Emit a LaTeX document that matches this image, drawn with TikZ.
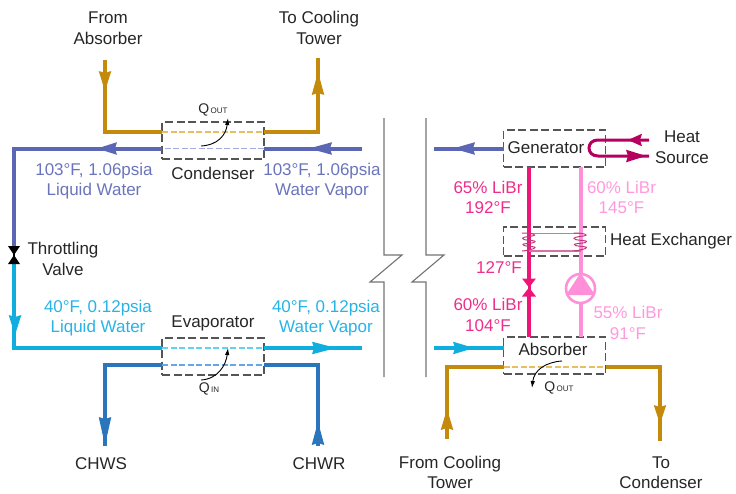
\documentclass[tikz,border=0pt]{standalone}
\usepackage{fontspec}
\setmainfont{Liberation Sans}
\usetikzlibrary{arrows.meta,calc}
\definecolor{cpurple}{HTML}{5B67B4}
\definecolor{tpurple}{HTML}{6A74BC}
\definecolor{dpurple}{HTML}{A4ABE2}
\definecolor{ccyan}{HTML}{0FAEDF}
\definecolor{tcyan}{HTML}{27B3E6}
\definecolor{dcyan}{HTML}{62D2F2}
\definecolor{cgold}{HTML}{C48A0C}
\definecolor{dgold}{HTML}{E8BE62}
\definecolor{cblue}{HTML}{2A75BB}
\definecolor{dblue}{HTML}{62A8E8}
\definecolor{cpink}{HTML}{EE1478}
\definecolor{tpink}{HTML}{EE2E8A}
\definecolor{clight}{HTML}{FF8FD8}
\definecolor{tlight}{HTML}{FF99DD}
\definecolor{ccrim}{HTML}{B5005F}
\definecolor{ccoil}{HTML}{C0387E}
\definecolor{cbox}{HTML}{555555}
\tikzset{
  x=1pt,y=-1pt,
  every node/.style={inner sep=0pt,outer sep=0pt},
  lbl/.style={font=\fontsize{17}{20.5}\selectfont,align=center,text=black!85},
  qlbl/.style={font=\fontsize{14}{16}\selectfont,text=black!85},
  box/.style={draw=cbox,line width=1.1pt,dash pattern=on 8pt off 3.5pt,minimum width=102pt},
  pipe/.style={line width=4pt,line join=miter},
  inner/.style={line width=1.3pt,dash pattern=on 6pt off 2.5pt},
  brk/.style={draw=black!55,line width=1.1pt},
  qarrow/.style={black,line width=.9pt,-{Latex[length=7pt,width=4.5pt]}},
  coil/.style={draw=ccoil,line width=1pt},
}
\newcommand{\QL}[1]{Q{\fontsize{8}{8}\selectfont\,#1}}
% filled arrowhead: colour, base point, tip point
\newcommand{\fhead}[3]{\fill[#1] ($#2!6.3pt!90:#3$) -- #3 -- ($#2!6.3pt!-90:#3$) -- ($#2!2pt!0:#3$) -- cycle;}
\begin{document}
\begin{tikzpicture}
\useasboundingbox (0,0) rectangle (736,493);
% boxes
\node[box,minimum height=37pt] (cond) at (213,140.5) {};
\node[box,minimum height=37pt] (evap) at (213,356.5) {};
\node[box,minimum height=37pt] (gen) at (554.5,148.5) {};
\node[box,minimum height=29pt] (hx) at (554.5,241.5) {};
\node[box,minimum height=37pt] (abs) at (554.5,355.5) {};
% free ends
\coordinate (fromabs) at (105,60);
\coordinate (totower) at (318,58);
\coordinate (vapin) at (362,148.5);
\coordinate (corner) at (14,148.5);
\coordinate (vapout) at (362,348);
\coordinate (chws) at (105,446);
\coordinate (chwr) at (318,446);
\coordinate (genout) at (434,148.5);
\coordinate (absin) at (434,348);
\coordinate (fromct) at (447,439);
\coordinate (tocond) at (660,441);
\coordinate (valveT) at (14,246);
\coordinate (valveB) at (14,264);
\coordinate (corner2) at (14,348);
\coordinate (pvT) at (529,279);
\coordinate (pvB) at (529,296);
\coordinate (pumpc) at (580.5,288.5);
% pipes: condenser
\draw[pipe,cgold] (fromabs) -- (105,132) -- (162,132);
\draw[pipe,cgold] (264,132) -- (318,132) -- (totower);
\draw[inner,dgold] (162,132) -- (264,132);
\draw[pipe,cpurple] (vapin) -- (264,148.5);
\draw[inner,dpurple] (264,148.5) -- (162,148.5);
\draw[pipe,cpurple] (162,148.5) -- (corner) -- (valveT);
% evaporator
\draw[pipe,ccyan] (valveB) -- (corner2) -- (162,348);
\draw[inner,dcyan] (162,348) -- (264,348);
\draw[pipe,ccyan] (264,348) -- (vapout);
\draw[pipe,cblue] (chws) -- (105,365) -- (162,365);
\draw[inner,dblue] (162,365) -- (264,365);
\draw[pipe,cblue] (264,365) -- (318,365) -- (chwr);
% generator / absorber
\draw[pipe,cpurple] (gen.west) -- (genout);
\draw[pipe,ccyan] (absin) -- (abs.west |- absin);
\draw[pipe,cgold] (fromct) -- (447,367) -- (503.5,367);
\draw[inner,dgold] (503.5,367) -- (605.5,367);
\draw[pipe,cgold] (605.5,367) -- (660,367) -- (tocond);
\draw[pipe,cpink] (529,167) -- (pvT);
\draw[pipe,cpink] (pvB) -- (529,337);
\draw[pipe,clight] (580.5,167) -- (580.5,273);
\draw[pipe,clight] (580.5,303) -- (580.5,337);
% arrowheads
\fhead{cgold}{(105,71)}{(105,91)}
\fhead{cgold}{(318,95)}{(318,72)}
\fhead{cpurple}{(117,148.5)}{(97,148.5)}
\fhead{cpurple}{(332,148.5)}{(309,148.5)}
\fhead{ccyan}{(15,315)}{(15,335)}
\fhead{ccyan}{(312,348)}{(336,348)}
\fhead{cblue}{(105,417)}{(105,445)}
\fhead{cblue}{(318,445)}{(318,422)}
\fhead{cpurple}{(475,148.5)}{(453,148.5)}
\fhead{ccyan}{(453,348)}{(474,348)}
\fhead{cgold}{(447,430)}{(447,409)}
\fhead{cgold}{(660,405)}{(660,424)}
% valves
\fill[black] (8,246) -- (20,246) -- (14,255) -- (20,264) -- (8,264) -- (14,255) -- cycle;
\draw[black,line width=2pt] (14,252) -- (14,258);
\fill[cpink] (522,278.5) -- (536,278.5) -- (529,287.5) -- (536,296.5) -- (522,296.5) -- (529,287.5) -- cycle;
\draw[cpink,line width=3pt] (529,283) -- (529,292);
% pump
\draw[clight,line width=2.6pt,fill=white] (pumpc) circle[radius=14.5];
\fill[clight] (580.5,273) -- (595,295) -- (566,295) -- cycle;
% heat source loop
\draw[ccrim,line width=3pt] (649,140) -- (598,140) .. controls (586,140) and (586,156) .. (598,156) -- (649,156);
\fhead{ccrim}{(642,140)}{(628,140)}
\fhead{ccrim}{(626,156)}{(646,156)}
% heat exchanger
\draw[coil,draw=ccoil!70] (529,233) -- (580.5,233);
\draw[coil,draw=ccoil!70,line width=1.4pt] (529,251) -- (580.5,251);
\foreach \cx in {529,580.5}{
  \draw[coil] (\cx-7,233) .. controls (\cx+4,233) and (\cx+9,235) .. (\cx+3,236)
     .. controls (\cx-1,236.5) and (\cx-10,237.5) .. (\cx-5,239.5)
     .. controls (\cx-2,240.5) and (\cx+10,240.5) .. (\cx+5,242.5)
     .. controls (\cx+2,243.5) and (\cx-10,243.5) .. (\cx-5,245.5)
     .. controls (\cx-2,246.5) and (\cx+10,246.5) .. (\cx+5,248.5)
     .. controls (\cx+2,249.5) and (\cx-4,251) .. (\cx-7,251);
}
% break lines
\draw[brk] (384,118) -- (384,255) -- (402,255) -- (370,282) -- (384,282) -- (384,377);
\draw[brk] (426,118) -- (426,255) -- (444,255) -- (412,282) -- (426,282) -- (426,377);
% heat arrows
\coordinate (q1a) at (201,146);
\coordinate (q1b) at (228,118);
\draw[qarrow] (q1a) .. controls (218,145) and (226,135) .. (q1b);
\coordinate (q2a) at (201,380);
\coordinate (q2b) at (228,348);
\draw[qarrow] (q2a) .. controls (218,379) and (226,365) .. (q2b);
\coordinate (q3a) at (562,361);
\coordinate (q3b) at (532,388);
\draw[qarrow] (q3a) .. controls (546,362) and (534,370) .. (q3b);
\node[qlbl] (qout1) at (213,110) {\QL{OUT}};
\node[qlbl] (qin) at (209,389) {\QL{IN}};
\node[qlbl] (qout2) at (559,388) {\QL{OUT}};
% labels
\node[lbl] (t1) at (108,28) {From\\Absorber};
\node[lbl] (t2) at (319,28) {To Cooling\\Tower};
\node[lbl] (t3) at (213,173) {Condenser};
\node[lbl] (t4) at (213,323) {Evaporator};
\node[lbl,text=tpurple] (t5) at (94,181) {103°F, 1.06psia\\Liquid Water};
\node[lbl,text=tpurple] (t6) at (322,181) {103°F, 1.06psia\\Water Vapor};
\node[lbl] (t7) at (63,259) {Throttling\\Valve};
\node[lbl,text=tcyan] (t8) at (98,318) {40°F, 0.12psia\\Liquid Water};
\node[lbl,text=tcyan] (t9) at (326,318) {40°F, 0.12psia\\Water Vapor};
\node[lbl] (t10) at (101,464) {CHWS};
\node[lbl] (t11) at (319,464) {CHWR};
\node[lbl] (t12) at (450,472.5) {From Cooling\\Tower};
\node[lbl] (t13) at (661,472.5) {To\\Condenser};
\node[lbl] (t14) at (546,148) {Generator};
\node[lbl] (t15) at (553,349) {Absorber};
\node[lbl] (t16) at (682,147) {Heat\\Source};
\node[lbl] (t17) at (671,241) {Heat Exchanger};
\node[lbl,text=tpink] (t18) at (488,197.5) {65\% LiBr\\192°F};
\node[lbl,text=tlight] (t19) at (621.5,197.5) {60\% LiBr\\145°F};
\node[lbl,text=tpink] (t20) at (499,268) {127°F};
\node[lbl,text=tpink] (t21) at (488,315) {60\% LiBr\\104°F};
\node[lbl,text=tlight] (t22) at (628,323) {55\% LiBr\\91°F};
\end{tikzpicture}
\end{document}
